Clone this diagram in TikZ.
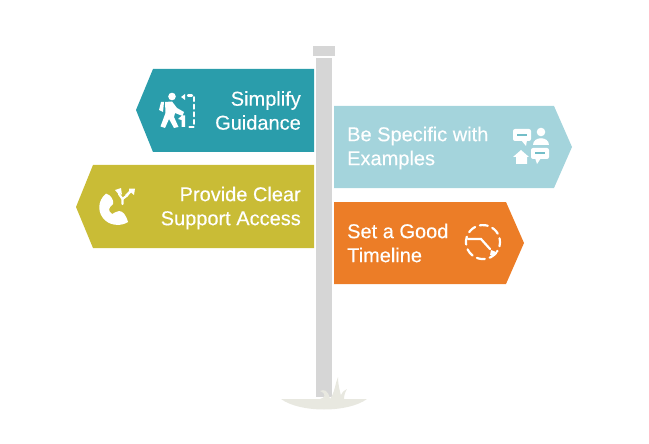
\documentclass[tikz,border=0pt]{standalone}
\usepackage{fontspec}
\setmainfont[FakeBold=0.25]{Liberation Sans}
\usetikzlibrary{calc}
\definecolor{tealsign}{HTML}{2A9DAB}
\definecolor{olivesign}{HTML}{C9BC36}
\definecolor{bluesign}{HTML}{A4D4DC}
\definecolor{orangesign}{HTML}{EC7D27}
\definecolor{postgray}{HTML}{D6D6D6}
\definecolor{groundgray}{HTML}{E8E8E0}
\tikzset{
  signtext/.style={text=white,inner sep=0pt,font=\fontsize{20}{24}\selectfont},
  icon/.style={fill=white,draw=none},
  iconline/.style={draw=white,line width=2.2pt,fill=none,line cap=round}
}
\begin{document}
\begin{tikzpicture}[x=1pt,y=-1pt]
  \useasboundingbox (0,0) rectangle (649,444);
  % post
  \fill[groundgray] (281,399) .. controls (300,413) and (348,413) .. (367,399) -- cycle;
  \fill[postgray] (316,58) rectangle (332,397);
  \fill[postgray] (313,46) rectangle (335,56);
  \fill[groundgray] (320,391) .. controls (324,389) and (328,390) .. (330,399) -- (320,399) .. controls (325,398) and (327,394) .. (320,391) -- cycle;
  \fill[groundgray] (330,399) .. controls (335,392) and (335,384) .. (338,377) .. controls (338,385) and (340,392) .. (342,399) -- cycle;
  \fill[groundgray] (341,395) .. controls (343,391) and (345,390) .. (347,389) .. controls (345,392) and (344,396) .. (344,399) -- (341,399) -- cycle;
  % signs
  \fill[tealsign] (136,110) -- (153,69) -- (314,69) -- (314,152) -- (153,152) -- cycle;
  \fill[olivesign] (76,207) -- (93,165) -- (314,165) -- (314,248) -- (93,248) -- cycle;
  \fill[bluesign] (334,106) -- (554,106) -- (572,147) -- (554,188) -- (334,188) -- cycle;
  \fill[orangesign] (334,202) -- (506,202) -- (524,243) -- (506,284) -- (334,284) -- cycle;
  % labels
  \node[signtext,anchor=east,align=right] (simplify) at (301,110.5) {Simplify\\Guidance};
  \node[signtext,anchor=east,align=right] (support) at (301,208) {Provide Clear\\Support Access};
  \node[signtext,anchor=west,align=left] (specific) at (347,148) {Be Specific with\\Examples};
  \node[signtext,anchor=west,align=left] (timeline) at (347,243) {Set a Good\\Timeline};
  % hiker icon
  \fill[icon] (172,96.5) circle (3.8);
  \fill[icon] (165,102) -- (172,101.5) -- (177,108) -- (184,112) -- (182.5,116) -- (175,113) -- (174,117) -- (178.5,127) -- (174,128) -- (169,119) -- (165,128) -- (160.5,126.5) -- (165.5,113) -- cycle;
  \fill[icon] (161,102) -- (164,102) -- (163,112) -- (159,110) -- cycle;
  \fill[icon] (181,97) -- (185,94) -- (185,100) -- cycle;
  \fill[icon] (178,119) -- (182,115.5) -- (185,115.5) -- (185,127) -- (181.5,127) -- (181.5,120) -- cycle;
  \draw[iconline,dash pattern=on 4pt off 3.6pt] (188,95.5) -- (194,95.5) -- (194,127) -- (188,127);
  % phone icon
  \fill[icon] (106,193.5) .. controls (97,201) and (97,214) .. (106,221) .. controls (112,226) and (122,226) .. (128,222) .. controls (126,215) and (123,211) .. (119,211) .. controls (116,211) and (113,214) .. (112,214) .. controls (108,211) and (108,208) .. (113,204) .. controls (114,200) and (111,195) .. (106,193.5) -- cycle;
  \fill[icon] (115,190) -- (121,188) -- (122,195) -- (120,193) -- (120,196) -- cycle;
  \fill[icon] (129,188.5) -- (135,188.5) -- (134,195) -- (131,192.5) -- (127,197) -- (125,195) -- (129,191) -- cycle;
  \draw[iconline] (119,194) -- (122.5,199) -- (122.5,204);
  \draw[iconline] (127,195.5) -- (122.5,199);
  % chat and people icon
  \fill[icon,rounded corners=2pt] (513,129) rectangle (531,141);
  \fill[icon] (521,140) -- (527,140) -- (526,146) -- cycle;
  \fill[tealsign!40!bluesign] (517,134) rectangle (527,136);
  \fill[icon] (541,132) circle (4.3);
  \fill[icon] (533,145) .. controls (533,136) and (549,136) .. (549,145) -- cycle;
  \fill[icon] (513,157) -- (521,150) -- (529,157) -- (527,157) -- (527,164) -- (516,164) -- (516,157) -- cycle;
  \fill[icon,rounded corners=2pt] (531,148) rectangle (549,159);
  \fill[icon] (535,158) -- (541,158) -- (537,164) -- cycle;
  \fill[tealsign!40!bluesign] (535,152.5) rectangle (545,154.5);
  % clock icon
  \draw[iconline,dash pattern=on 8pt off 5pt] (496,253) arc (40:395:17);
  \draw[iconline] (468,239) -- (481,239) -- (490,249);
  \fill[icon] (491,250) -- (496,252) -- (493,256) -- (490,255) -- cycle;
\end{tikzpicture}
\end{document}
